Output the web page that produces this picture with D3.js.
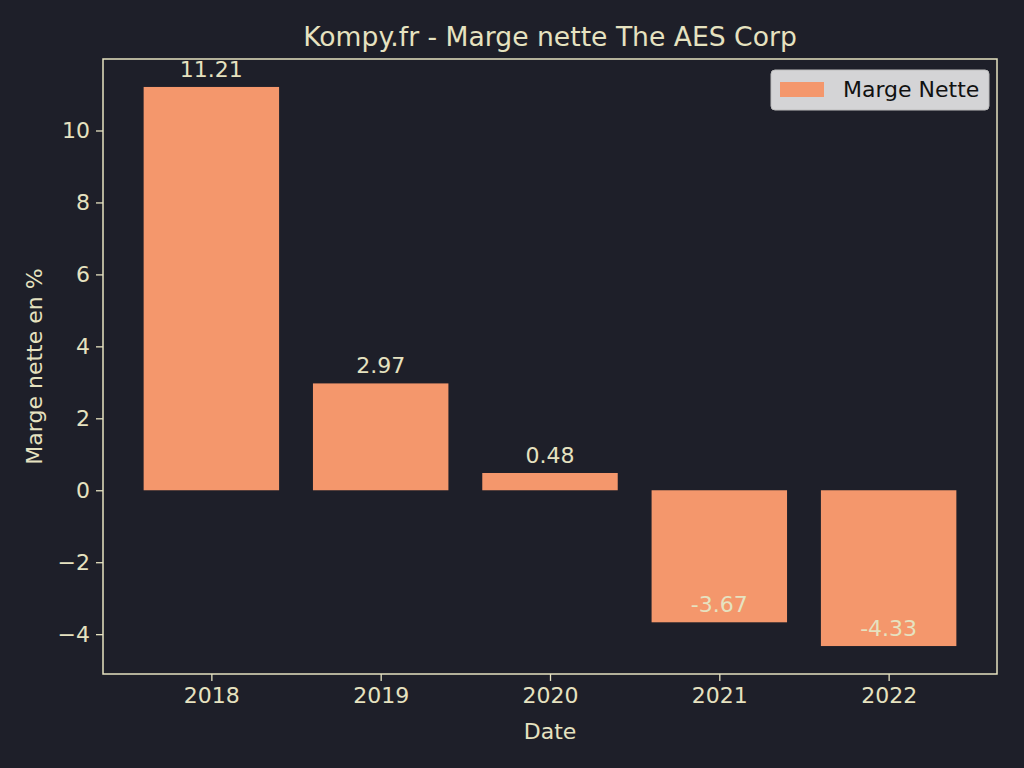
<!DOCTYPE html>
<html lang="fr">
<head>
<meta charset="UTF-8">
<title>Kompy.fr - Marge nette The AES Corp</title>
<style>
    body { margin: 0; background: #1e1f29; }
    text { font-family: "DejaVu Sans", sans-serif; }
</style>
</head>
<body>
<div id="chart"></div>
<script src="https://d3js.org/d3.v7.min.js"></script>
<script>
    // data
    const years = ['2018', '2019', '2020', '2021', '2022'];
    const marges = [11.21, 2.97, 0.48, -3.67, -4.33];
    const yTicks = [-4, -2, 0, 2, 4, 6, 8, 10];

    const width = 1024, height = 768;
    const margin = {top: 59, right: 27, bottom: 94, left: 103};
    const fg = '#e6e2c0';
    const barColor = '#f4976c';
    const fs = '22px';

    const svg = d3.select('#chart').append('svg')
        .attr('width', width)
        .attr('height', height)
        .style('background', '#1e1f29');

    // same padding as matplotlib: 5% around the data
    const x = d3.scaleLinear()
        .domain([-0.64, years.length - 1 + 0.64])
        .range([margin.left, width - margin.right]);
    const lo = d3.min(marges), hi = d3.max(marges);
    const pad = (hi - lo) * 0.05;
    const y = d3.scaleLinear()
        .domain([lo - pad, hi + pad])
        .range([height - margin.bottom, margin.top]);

    const bw = x(0.4) - x(-0.4);

    // bars
    svg.selectAll('.bar')
        .data(marges)
        .enter()
        .append('rect')
        .attr('class', 'bar')
        .attr('x', (d, i) => x(i) - bw / 2)
        .attr('y', d => y(Math.max(0, d)))
        .attr('width', bw)
        .attr('height', d => Math.abs(y(d) - y(0)))
        .attr('fill', barColor);

    // axes
    const xAxis = d3.axisBottom(x)
        .tickValues(d3.range(years.length))
        .tickFormat(i => years[i])
        .tickSize(7)
        .tickPadding(6);
    const yAxis = d3.axisLeft(y)
        .tickValues(yTicks)
        .tickFormat(d => d < 0 ? '\u2212' + Math.abs(d) : d)
        .tickSize(7)
        .tickPadding(6);

    const gx = svg.append('g')
        .attr('transform', `translate(0,${height - margin.bottom})`)
        .call(xAxis);
    const gy = svg.append('g')
        .attr('transform', `translate(${margin.left},0)`)
        .call(yAxis);

    [gx, gy].forEach(g => {
        g.select('.domain').remove();
        g.selectAll('line').attr('stroke', fg).attr('stroke-width', 1.3);
        g.selectAll('text').attr('fill', fg).style('font-size', fs)
            .style('font-family', '"DejaVu Sans", sans-serif');
    });

    // frame
    svg.append('rect')
        .attr('x', margin.left)
        .attr('y', margin.top)
        .attr('width', width - margin.left - margin.right)
        .attr('height', height - margin.top - margin.bottom)
        .attr('fill', 'none')
        .attr('stroke', fg)
        .attr('stroke-width', 1.5);

    // value labels
    svg.selectAll('.val')
        .data(marges)
        .enter()
        .append('text')
        .attr('class', 'val')
        .attr('x', (d, i) => x(i))
        .attr('y', d => y(d) - 10)
        .attr('text-anchor', 'middle')
        .attr('fill', fg)
        .style('font-size', fs)
        .text(d => d.toFixed(2));

    // title and axis labels
    svg.append('text')
        .attr('x', (margin.left + width - margin.right) / 2)
        .attr('y', 46)
        .attr('text-anchor', 'middle')
        .attr('fill', fg)
        .style('font-size', '26.6px')
        .text('Kompy.fr - Marge nette The AES Corp');

    svg.append('text')
        .attr('x', (margin.left + width - margin.right) / 2)
        .attr('y', 739)
        .attr('text-anchor', 'middle')
        .attr('fill', fg)
        .style('font-size', fs)
        .text('Date');

    svg.append('text')
        .attr('transform', `translate(42,${(margin.top + height - margin.bottom) / 2}) rotate(-90)`)
        .attr('text-anchor', 'middle')
        .attr('fill', fg)
        .style('font-size', fs)
        .text('Marge nette en %');

    // legend
    const lg = svg.append('g').attr('transform', 'translate(771,70)');
    lg.append('rect')
        .attr('width', 218)
        .attr('height', 40)
        .attr('rx', 4)
        .attr('fill', '#d4d4d6')
        .attr('stroke', '#bdbdbd');
    lg.append('rect')
        .attr('x', 9)
        .attr('y', 12)
        .attr('width', 44)
        .attr('height', 15)
        .attr('fill', barColor);
    lg.append('text')
        .attr('x', 72)
        .attr('y', 27)
        .attr('fill', '#111')
        .style('font-size', fs)
        .text('Marge Nette');
</script>
</body>
</html>
